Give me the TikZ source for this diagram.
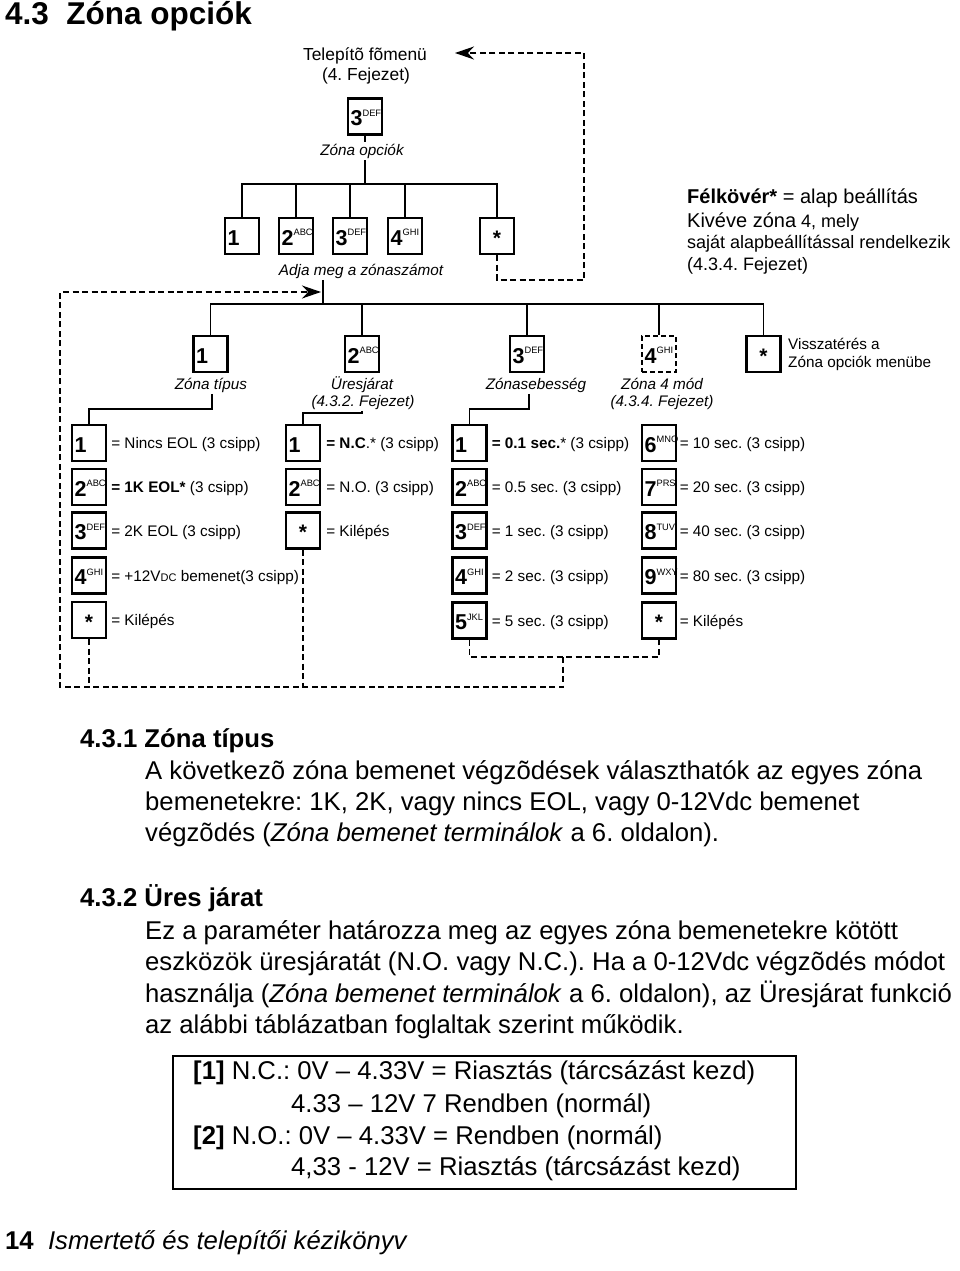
\documentclass[tikz,border=0pt]{standalone}
\usepackage{fontspec}
\setmainfont{Liberation Sans}
\usetikzlibrary{arrows.meta,calc}
\frenchspacing
\newcommand\fsz[1]{\fontsize{#1}{#1}\selectfont}
\tikzset{
 keyb/.style={draw, line width=2.2pt, minimum width=34pt, minimum height=36pt, inner sep=0pt},
 keylbl/.style={anchor=base west, inner sep=0pt},
 conn/.style={line width=1.4pt},
 dline/.style={line width=1.2pt, dash pattern=on 6pt off 3.5pt},
 tip/.style={-{Stealth[length=19pt,width=13pt]}},
 lab/.style={anchor=base, inner sep=1.5pt, font=\fsz{15.3}\itshape},
 txt/.style={anchor=base west, inner sep=0pt, font=\fsz{15.3}},
 body/.style={anchor=base west, inner sep=0pt, font=\fsz{25.7}},
 note/.style={anchor=base west, inner sep=0pt, font=\fsz{18}},
}
\newcommand\kbox[5][]{%
 \node[keyb,#1] (#2) at (#3) {};
 \node[keylbl] (#2t) at ([xshift=3.5pt,yshift=10pt]#2.south west) {\fsz{21.5}\bfseries #4\raisebox{9.5pt}{\fsz{9.3}\mdseries #5}};}
\newcommand\kstar[3][]{%
 \node[keyb,#1] (#2) at (#3) {};
 \node[anchor=base, inner sep=0pt] (#2t) at ([yshift=10pt]#2.south) {\fsz{21}\bfseries *};}
\newcommand\ktext[3][4pt]{\node[txt] (#2x) at ([xshift=#1,yshift=-5.5pt]#2.east) {#3};}
\begin{document}
\begin{tikzpicture}[x=1pt,y=-1pt]
\fill[white] (0,0) rectangle (960,1271);
\useasboundingbox (0,0) rectangle (960,1271);

% title
\node[anchor=base west, inner sep=0pt] (title) at (5,25) {\fsz{31.5}\bfseries 4.3~~Zóna opciók};

% top
\node[anchor=base, inner sep=0pt, font=\fsz{17.4}] (tel1) at (365,61) {Telepítõ fõmenü};
\node[anchor=base, inner sep=0pt, font=\fsz{17.4}] (tel2) at (366,81) {(4. Fejezet)};
\kbox{zo}{365,116.5}{3}{DEF}
\node[lab] (zol) at (362,155) {Zóna opciók};
\coordinate (hub1) at (365,184);
\draw[conn] (zo.south) -- (zo.south |- zol.north);
\draw[conn] (zo.south |- zol.south) -- (hub1);

% level 1
\kbox{k1}{242,236}{1}{}
\kbox{k2}{296,236}{2}{ABC}
\kbox{k3}{350,236}{3}{DEF}
\kbox{k4}{405,236}{4}{GHI}
\kstar{ks}{497,236}
\draw[conn] (k1.north) |- (ks.north |- hub1) -- (ks.north);
\foreach \n in {k2,k3,k4} \draw[conn] (\n.north) -- (\n.north |- hub1);
\node[lab] (adja) at (361,275) {Adja meg a zónaszámot};

% note
\node[note] (n1) at (687,203) {\fsz{20}\textbf{Félkövér*} = alap beállítás};
\node[note] (n2) at (687,227) {\fsz{20}Kivéve zóna\fsz{18} 4, mely};
\node[note] (n3) at (687,248) {saját alapbeállítással rendelkezik};
\node[note] (n4) at (687,270) {(4.3.4. Fejezet)};

% return path top
\coordinate (r2) at (584,280);
\coordinate (tipA) at (455,53);
\draw[dline, tip] (ks.south) |- (r2) |- (tipA);

% level 2
\coordinate (hub2) at (323,304);
\draw[conn] (hub2 |- adja.south) -- (hub2);
\kbox{m1}{210.5,354}{1}{}
\kbox{m2}{362,354}{2}{ABC}
\kbox{m3}{527,354}{3}{DEF}
\kbox[dash pattern=on 5pt off 3pt]{m4}{659,354}{4}{GHI}
\kstar{ms}{763.5,354}
\draw[conn] (m1.north) |- (ms.north |- hub2) -- (ms.north);
\foreach \n in {m2,m3,m4} \draw[conn] (\n.north) -- (\n.north |- hub2);

\node[lab] (l1) at (211,389) {Zóna típus};
\node[lab] (l2a) at (362,389) {Üresjárat};
\node[lab] (l2b) at (363,406) {(4.3.2. Fejezet)};
\node[lab] (l3) at (536,389) {Zónasebesség};
\node[lab] (l4a) at (662,389) {Zóna 4 mód};
\node[lab] (l4b) at (662,406) {(4.3.4. Fejezet)};
\node[txt] (l5a) at (788,349) {Visszatérés a};
\node[txt] (l5b) at (788,367) {Zóna opciók menübe};

% column 1
\kbox{a1}{89,443}{1}{}
\kbox{a2}{89,487}{2}{ABC}
\kbox{a3}{89,530.5}{3}{DEF}
\kbox{a4}{89,575.5}{4}{GHI}
\kstar{a5}{89,620}
\ktext{a1}{= Nincs EOL (3 csipp)}
\ktext{a2}{\textbf{= 1K EOL*} (3 csipp)}
\ktext{a3}{= 2K EOL (3 csipp)}
\ktext{a4}{= +12V{\fsz{11}DC} bemenet(3 csipp)}
\ktext{a5}{= Kilépés}

% column 2
\kbox{b1}{303,443}{1}{}
\kbox{b2}{303,487}{2}{ABC}
\kstar{b3}{303,530.5}
\ktext[5pt]{b1}{\textbf{= N.C}.* (3 csipp)}
\ktext[5pt]{b2}{= N.O. (3 csipp)}
\ktext[5pt]{b3}{= Kilépés}

% column 3
\kbox{c1}{469.5,443}{1}{}
\kbox{c2}{469.5,487}{2}{ABC}
\kbox{c3}{469.5,530.5}{3}{DEF}
\kbox{c4}{469.5,575.5}{4}{GHI}
\kbox{c5}{469.5,620.5}{5}{JKL}
\ktext{c1}{\textbf{= 0.1 sec.}* (3 csipp)}
\ktext{c2}{= 0.5 sec. (3 csipp)}
\ktext{c3}{= 1 sec. (3 csipp)}
\ktext{c4}{= 2 sec. (3 csipp)}
\ktext{c5}{= 5 sec. (3 csipp)}

% column 4
\kbox{d1}{659,443}{6}{MNO}
\kbox{d2}{659,487}{7}{PRS}
\kbox{d3}{659,530.5}{8}{TUV}
\kbox{d4}{659,575.5}{9}{WXY}
\kstar{d5}{659,620.5}
\ktext[2.5pt]{d1}{= 10 sec. (3 csipp)}
\ktext[2.5pt]{d2}{= 20 sec. (3 csipp)}
\ktext[2.5pt]{d3}{= 40 sec. (3 csipp)}
\ktext[2.5pt]{d4}{= 80 sec. (3 csipp)}
\ktext[2.5pt]{d5}{= Kilépés}

% connectors from level 2 labels
\coordinate (j1) at (212,409);
\coordinate (j2) at (362,413);
\coordinate (j3) at (529,409);
\draw[conn] (l1.south -| j1) -- (j1) -| (a1.north);
\draw[conn] (l2b.south -| j2) -- (j2) -| (b1.north);
\draw[conn] (l3.south -| j3) -- (j3) -| (c1.north);

% bottom return path
\coordinate (q0) at (60,687);
\coordinate (q1) at (563,657);
\coordinate (tipB) at (321,292);
\draw[dline] (a5.south) -- (a5.south |- q0);
\draw[dline] (b3.south) -- (b3.south |- q0);
\draw[dline] (c5.south) |- (q1) -| (d5.south);
\draw[dline, tip] (q1) |- (q0) |- (tipB);

% body text
\node[body] (h1) at (80,747) {\textbf{4.3.1 Zóna típus}};
\node[body] (p1a) at (145,779) {A következõ zóna bemenet végzõdések választhatók az egyes zóna};
\node[body] (p1b) at (145,810) {bemenetekre: 1K, 2K, vagy nincs EOL, vagy 0-12Vdc bemenet};
\node[body] (p1c) at (145,841) {végzõdés (\textit{Zóna bemenet terminálok} a 6. oldalon).};
\node[body] (h2) at (80,906) {\textbf{4.3.2 Üres járat}};
\node[body] (p2a) at (145,939) {Ez a paraméter határozza meg az egyes zóna bemenetekre kötött};
\node[body] (p2b) at (145,970) {eszközök üresjáratát (N.O. vagy N.C.). Ha a 0-12Vdc végzõdés módot};
\node[body] (p2c) at (145,1002) {használja (\textit{Zóna bemenet terminálok} a 6. oldalon), az Üresjárat funkció};
\node[body] (p2d) at (145,1033) {az alábbi táblázatban foglaltak szerint működik.};

% table box
\draw[line width=1.5pt] (173,1056) rectangle (796,1189);
\node[body] (t1) at (193,1079) {\textbf{[1]} N.C.: 0V – 4.33V = Riasztás (tárcsázást kezd)};
\node[body] (t2) at (291,1112) {4.33 – 12V 7 Rendben (normál)};
\node[body] (t3) at (193,1144) {\textbf{[2]} N.O.: 0V – 4.33V = Rendben (normál)};
\node[body] (t4) at (291,1175) {4,33 - 12V = Riasztás (tárcsázást kezd)};

% footer
\node[body] (foot) at (5,1249) {\textbf{14}~~\textit{Ismertető és telepítői kézikönyv}};
\end{tikzpicture}
\end{document}
